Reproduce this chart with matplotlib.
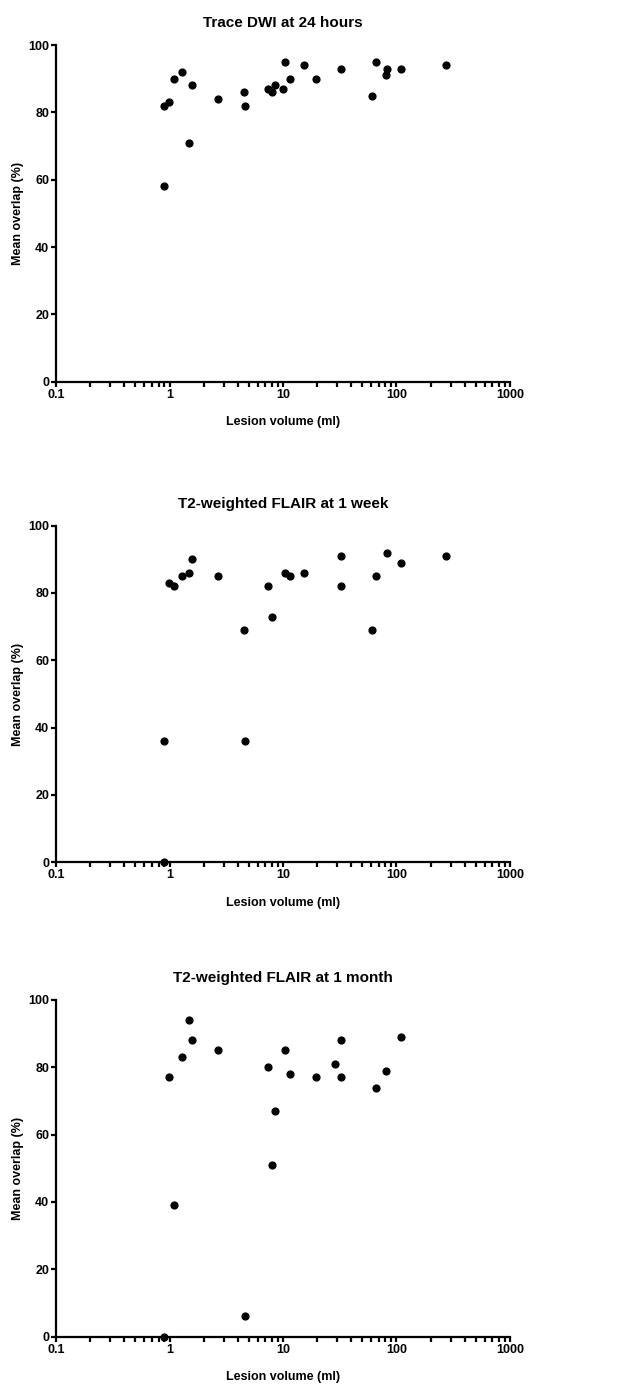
import matplotlib.pyplot as plt
from matplotlib.ticker import LogLocator, FixedLocator, FuncFormatter

plt.rcParams['font.family'] = ['Liberation Sans', 'DejaVu Sans']
plt.rcParams['font.weight'] = 'bold'

# Trace DWI at 24 hours
dwi_vol = [0.89, 0.89, 0.99, 1.09, 1.29, 1.49, 1.59, 2.69, 4.56, 4.66, 7.42, 7.94, 8.5,
           10.05, 10.4, 11.6, 15.4, 19.4, 32.2, 60.4, 65.9, 80.7, 81.8, 108.7, 271]
dwi_ovl = [82, 58, 83, 90, 92, 71, 88, 84, 86, 82, 87, 86, 88,
           87, 95, 90, 94, 90, 93, 85, 95, 91, 93, 93, 94]

# T2-weighted FLAIR at 1 week
wk_vol = [0.89, 0.89, 0.99, 1.09, 1.29, 1.49, 1.59, 2.69, 4.56, 4.66, 7.42, 7.94,
          10.4, 11.6, 15.4, 32.2, 32.2, 60.4, 65.9, 81.8, 108.7, 271]
wk_ovl = [36, 0, 83, 82, 85, 86, 90, 85, 69, 36, 82, 73,
          86, 85, 86, 91, 82, 69, 85, 92, 89, 91]

# T2-weighted FLAIR at 1 month
mo_vol = [0.89, 0.99, 1.09, 1.29, 1.49, 1.59, 2.69, 4.66, 7.42, 7.94, 8.5,
          10.4, 11.6, 19.4, 28.7, 32.2, 32.2, 65.9, 80.7, 108.7]
mo_ovl = [0, 77, 39, 83, 94, 88, 85, 6, 80, 51, 67,
          85, 78, 77, 81, 88, 77, 74, 79, 89]

titles = ['Trace DWI at 24 hours', 'T2-weighted FLAIR at 1 week', 'T2-weighted FLAIR at 1 month']
panels = [(dwi_vol, dwi_ovl), (wk_vol, wk_ovl), (mo_vol, mo_ovl)]
bottoms = [0.7244, 0.3774, 0.0349]

fig = plt.figure(figsize=(6.3, 13.85), dpi=100)

for (xv, yv), title, b in zip(panels, titles, bottoms):
    ax = fig.add_axes([0.0889, b, 0.7206, 0.2431])
    ax.scatter(xv, yv, s=24, color='black', zorder=3, clip_on=False)
    ax.set_xscale('log')
    ax.set_xlim(0.1, 1000)
    ax.set_ylim(0, 100)
    ax.xaxis.set_major_locator(FixedLocator([0.1, 1, 10, 100, 1000]))
    ax.xaxis.set_major_formatter(FuncFormatter(lambda v, p: f'{v:g}'))
    ax.xaxis.set_minor_locator(LogLocator(base=10, subs=range(2, 10)))
    ax.xaxis.set_minor_formatter(FuncFormatter(lambda v, p: ''))
    ax.set_yticks([0, 20, 40, 60, 80, 100])
    for s in ['top', 'right']:
        ax.spines[s].set_visible(False)
    for s in ['left', 'bottom']:
        ax.spines[s].set_linewidth(1.6)
    ax.tick_params(which='both', direction='out', width=1.6, length=3.5,
                   labelsize=9, pad=1.5)
    for lab in ax.get_xticklabels() + ax.get_yticklabels():
        lab.set_fontweight('bold')
    ax.set_title(title, fontsize=11, fontweight='bold', pad=13)
    ax.set_xlabel('Lesion volume (ml)', fontsize=9, fontweight='bold', labelpad=11)
    ax.set_ylabel('Mean overlap (%)', fontsize=9, fontweight='bold', labelpad=3)

fig.savefig('out.png', dpi=100)
